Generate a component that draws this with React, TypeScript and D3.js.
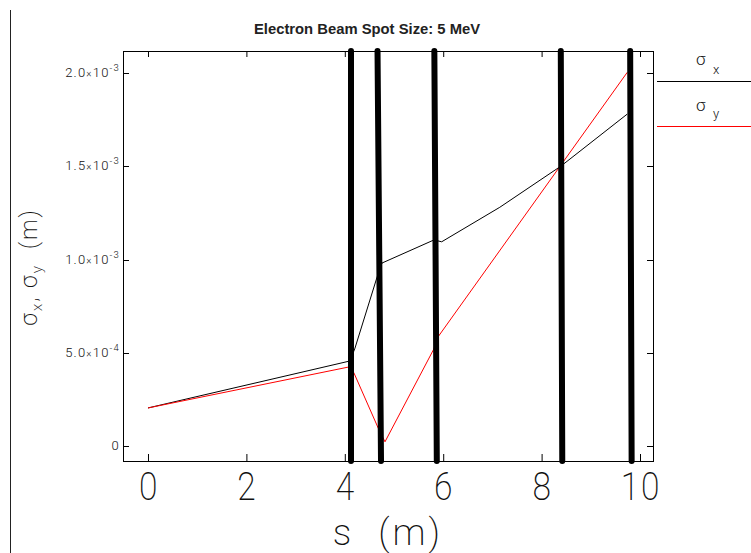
import * as d3 from "d3";

// beam envelope, s in metres, sigma in metres
const sX = [0, 4.106, 4.207, 4.65, 4.756, 5.813, 5.969, 7.15, 8.394, 9.742];
const sigmaX = [0.204e-3, 0.456e-3, 0.525e-3, 0.901e-3, 0.981e-3, 1.105e-3, 1.095e-3, 1.28e-3, 1.501e-3, 1.78e-3];
const sY = [0, 4.106, 4.187, 4.681, 4.817, 5.799, 5.9, 8.394, 9.742];
const sigmaY = [0.204e-3, 0.425e-3, 0.391e-3, 0.095e-3, 0.0225e-3, 0.515e-3, 0.587e-3, 1.507e-3, 2.004e-3];

// quadrupole positions (top / bottom end of each marker)
const magnetTop = [4.126, 4.665, 5.82, 8.39, 9.8];
const magnetBottom = [4.126, 4.736, 5.87, 8.42, 9.83];

const xTicks = [0, 2, 4, 6, 8, 10];
const yTicks = [0, 5e-4, 1e-3, 1.5e-3, 2e-3];
const yTickMantissa = ["0", "5.0", "1.0", "1.5", "2.0"];
const yTickExp = ["", "-4", "-3", "-3", "-3"];

const W = 751;
const H = 553;
const left = 123, right = 653, top = 51, bottom = 461;
const thin = "Roboto, 'DejaVu Sans', sans-serif";

export default function App() {
  const x = d3.scaleLinear().domain([-0.508, 10.264]).range([left, right]);
  const y = d3.scaleLinear().domain([-0.0804e-3, 2.118e-3]).range([bottom, top]);
  const [y0, y1] = y.domain();

  const line = d3.line<[number, number]>()
    .x(d => x(d[0]))
    .y(d => y(d[1]));

  const ptsX = sX.map((s, i) => [s, sigmaX[i]] as [number, number]);
  const ptsY = sY.map((s, i) => [s, sigmaY[i]] as [number, number]);

  return (
    <svg width={W} height={H} style={{ position: "absolute", left: 0, top: 0, background: "#fff" }}>
      <line x1={10.5} x2={10.5} y1={10} y2={H} stroke="#222" strokeWidth={1} />

      <text x={367} y={34} textAnchor="middle" fontFamily="'Liberation Sans', Arial, sans-serif"
        fontWeight="bold" fontSize={14.8} fill="#222">
        Electron Beam Spot Size: 5 MeV</text>

      {/* frame */}
      <rect x={left + 0.5} y={top + 0.5} width={right - left} height={bottom - top}
        fill="none" stroke="#000" strokeWidth={1} />

      {xTicks.map(t => (
        <g key={"xt" + t}>
          <line x1={x(t) + 0.5} x2={x(t) + 0.5} y1={bottom} y2={bottom - 7} stroke="#000" />
          <line x1={x(t) + 0.5} x2={x(t) + 0.5} y1={top} y2={top + 6} stroke="#000" />
          <text transform={`translate(${x(t) + 1},500) scale(0.86,1)`} textAnchor="middle" fontFamily={thin}
            fontWeight={200} fontSize={39} fill="#111" letterSpacing={2}>{t}</text>
        </g>
      ))}

      {yTicks.map((t, i) => (
        <g key={"yt" + i}>
          <line x1={left} x2={left + 6} y1={Math.round(y(t)) + 0.5} y2={Math.round(y(t)) + 0.5} stroke="#000" />
          <line x1={right} x2={right - 6} y1={Math.round(y(t)) + 0.5} y2={Math.round(y(t)) + 0.5} stroke="#000" />
          <text x={120} y={y(t) + 4} textAnchor="end" fontFamily={thin} fontWeight={300}
            fontSize={13} fill="#111" letterSpacing={1.2}>
            {yTickMantissa[i]}
            {yTickExp[i] && <tspan fontSize={10}>×</tspan>}
            {yTickExp[i] && <tspan>10</tspan>}
            {yTickExp[i] && <tspan fontSize={9.5} dy={-6}>{yTickExp[i]}</tspan>}
          </text>
        </g>
      ))}

      <path d={line(ptsX) ?? ""} fill="none" stroke="#000" strokeWidth={1} />
      <path d={line(ptsY) ?? ""} fill="none" stroke="#ff0000" strokeWidth={1} />

      {magnetTop.map((s, i) => (
        <line key={"m" + i} x1={x(s)} y1={y(y1)} x2={x(magnetBottom[i])} y2={y(y0)}
          stroke="#000" strokeWidth={6} strokeLinecap="round" />
      ))}

      {/* axis labels */}
      <text x={388} y={545} textAnchor="middle" fontFamily={thin} fontWeight={200}
        fontSize={37} fill="#111" letterSpacing={3} style={{ whiteSpace: "pre" }}>{"s  (m)"}</text>

      <text transform="translate(37,267) rotate(-90)" textAnchor="middle" fontFamily={thin}
        fontWeight={200} fontSize={23} fill="#111" letterSpacing={2} style={{ whiteSpace: "pre" }}>
        σ<tspan fontSize={15} dy={5}>x</tspan><tspan dy={-5}>, σ</tspan>
        <tspan fontSize={15} dy={5}>y</tspan><tspan dy={-5}>{"  (m)"}</tspan>
      </text>

      {/* legend */}
      <text x={696} y={65} fontFamily={thin} fontWeight={300} fontSize={17} fill="#111">
        σ<tspan x={713} y={74} fontSize={13}>x</tspan>
      </text>
      <line x1={657} x2={W} y1={81.5} y2={81.5} stroke="#000" />
      <text x={696} y={111} fontFamily={thin} fontWeight={300} fontSize={17} fill="#111">
        σ<tspan x={713} y={118} fontSize={13}>y</tspan>
      </text>
      <line x1={657} x2={W} y1={126.5} y2={126.5} stroke="#ff0000" />
    </svg>
  );
}
